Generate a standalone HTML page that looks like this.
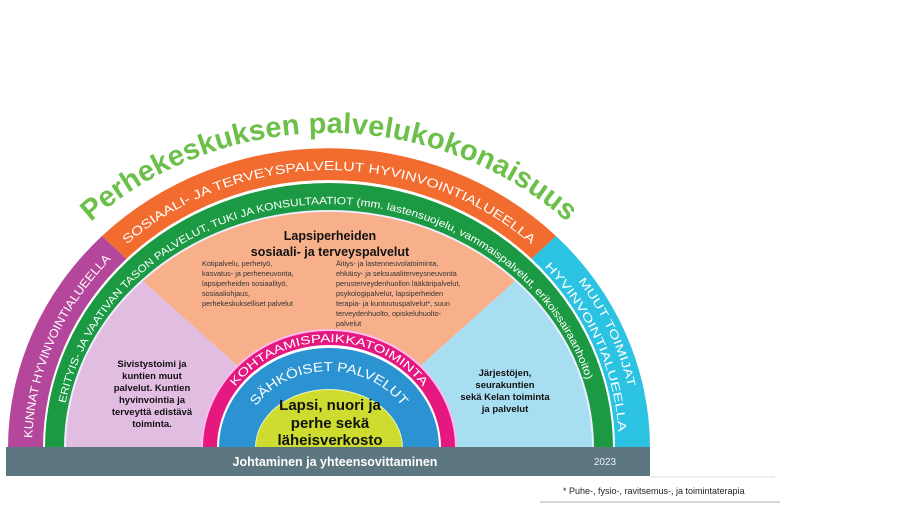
<!DOCTYPE html>
<html><head><meta charset="utf-8"><style>
html,body{margin:0;padding:0;background:#fff;overflow:hidden;width:905px;height:505px;}
svg{display:block;font-family:"Liberation Sans",Arial,sans-serif;}
</style></head><body>
<svg width="905" height="505" viewBox="0 0 905 505" xmlns="http://www.w3.org/2000/svg">
<defs>
<clipPath id="top"><rect x="0" y="0" width="905" height="448"/></clipPath>
<path id="pTitle" d="M -16 455 A 345 322 0 0 1 674 455"/>
<path id="pOr" d="M 32 448 A 297 278 0 0 1 626 448"/>
<path id="pGr" d="M 61 448 A 268 244 0 0 1 597 448"/>
<path id="pCy1" d="M 23 448 A 306 287 0 0 1 635 448"/>
<path id="pCy2" d="M 39 448 A 290 271 0 0 1 619 448"/>
<path id="pMag" d="M 214 448 A 115 106 0 0 1 444 448"/>
<path id="pBl" d="M 242 448 A 87 77 0 0 1 416 448"/>
</defs>
<g clip-path="url(#top)">
<path d="M329 448 L8 448 A321 300 0 0 1 102 236 Z" fill="#b4479c"/>
<path d="M329 448 L102 236 A321 300 0 0 1 556 236 Z" fill="#f26b2f"/>
<path d="M329 448 L556 236 A321 300 0 0 1 650 448 Z" fill="#2cc3e3"/>
<ellipse cx="329" cy="448" rx="286" ry="268" fill="#fff"/>
<ellipse cx="329" cy="448" rx="284" ry="265" fill="#1b9a43"/>
<ellipse cx="329" cy="448" rx="265" ry="238" fill="#eef"/>
<path d="M329 448 L66 448 A263 236 0 0 1 143 281 Z" fill="#e2bde2"/>
<path d="M329 448 L143 281 A263 236 0 0 1 515 281 Z" fill="#f8b08b"/>
<path d="M329 448 L515 281 A263 236 0 0 1 592 448 Z" fill="#a8def1"/>
<ellipse cx="329" cy="448" rx="128" ry="119" fill="#fbe"/>
<ellipse cx="329" cy="448" rx="126" ry="117" fill="#e5187f"/>
<ellipse cx="329" cy="448" rx="112" ry="103" fill="#fff"/>
<ellipse cx="329" cy="448" rx="110" ry="100" fill="#2b93d2"/>
<ellipse cx="329" cy="448" rx="74" ry="59" fill="#eef5c0"/>
<ellipse cx="329" cy="448" rx="73" ry="58" fill="#cddc2f"/>
</g>
<rect x="6" y="447" width="644" height="29" fill="#5d7780"/>
<text x="335" y="466" fill="#fff" font-size="12.5" font-weight="bold" text-anchor="middle">Johtaminen ja yhteensovittaminen</text>
<text x="605" y="465" fill="#eef" font-size="10" text-anchor="middle">2023</text>
<line x1="650" y1="477" x2="775" y2="477" stroke="#ddd" stroke-width="1"/>
<line x1="540" y1="502" x2="780" y2="502" stroke="#ccc" stroke-width="1.5"/>
<text x="563" y="494" fill="#222" font-size="9">* Puhe-, fysio-, ravitsemus-, ja toimintaterapia</text>
<text font-size="29" font-weight="bold" fill="#6cc04a"><textPath href="#pTitle" startOffset="50%" text-anchor="middle" textLength="520" lengthAdjust="spacing">Perhekeskuksen palvelukokonaisuus</textPath></text>
<text font-size="12.5" fill="#fff"><textPath href="#pOr" startOffset="50%" text-anchor="middle" textLength="440" lengthAdjust="spacingAndGlyphs">SOSIAALI- JA TERVEYSPALVELUT HYVINVOINTIALUEELLA</textPath></text>
<text font-size="12" fill="#fff"><textPath href="#pOr" startOffset="10" textLength="200" lengthAdjust="spacingAndGlyphs">KUNNAT HYVINVOINTIALUEELLA</textPath></text>
<text font-size="10.5" fill="#fff"><textPath href="#pGr" startOffset="45" textLength="690" lengthAdjust="spacingAndGlyphs">ERITYIS- JA VAATIVAN TASON PALVELUT, TUKI JA KONSULTAATIOT (mm. lastensuojelu, vammaispalvelut, erikoissairaanhoito)</textPath></text>
<text font-size="11.5" fill="#fff"><textPath href="#pCy1" startOffset="752" textLength="118" lengthAdjust="spacingAndGlyphs">MUUT TOIMIJAT</textPath></text>
<text font-size="11.5" fill="#fff"><textPath href="#pCy2" startOffset="680" textLength="185" lengthAdjust="spacingAndGlyphs">HYVINVOINTIALUEELLA</textPath></text>
<text font-size="11.5" fill="#fff"><textPath href="#pMag" startOffset="50%" text-anchor="middle" textLength="215" lengthAdjust="spacingAndGlyphs">KOHTAAMISPAIKKATOIMINTA</textPath></text>
<text font-size="13" fill="#fff"><textPath href="#pBl" startOffset="50%" text-anchor="middle" textLength="168" lengthAdjust="spacingAndGlyphs">SÄHKÖISET PALVELUT</textPath></text>
<text x="330" y="240" font-size="12.5" font-weight="bold" fill="#111" text-anchor="middle">Lapsiperheiden</text>
<text x="330" y="256" font-size="12.5" font-weight="bold" fill="#111" text-anchor="middle">sosiaali- ja terveyspalvelut</text>
<g font-size="7.3" fill="#333">
<text x="202" y="266">Kotipalvelu, perhetyö,</text>
<text x="202" y="276">kasvatus- ja perheneuvonta,</text>
<text x="202" y="286">lapsiperheiden sosiaalityö,</text>
<text x="202" y="296">sosiaaliohjaus,</text>
<text x="202" y="306">perhekeskukselliset palvelut</text>
<text x="336" y="266">Äitiys- ja lastenneuvolatoiminta,</text>
<text x="336" y="276">ehkäisy- ja seksuaaliterveysneuvonta</text>
<text x="336" y="286">perusterveydenhuollon lääkäripalvelut,</text>
<text x="336" y="296">psykologipalvelut, lapsiperheiden</text>
<text x="336" y="306">terapia- ja kuntoutuspalvelut*, suun</text>
<text x="336" y="316">terveydenhuolto, opiskeluhuolto-</text>
<text x="336" y="326">palvelut</text>
</g>
<g font-size="9.5" font-weight="bold" fill="#111" text-anchor="middle">
<text x="152" y="367">Sivistystoimi ja</text>
<text x="152" y="379">kuntien muut</text>
<text x="152" y="391">palvelut. Kuntien</text>
<text x="152" y="403">hyvinvointia ja</text>
<text x="152" y="415">terveyttä edistävä</text>
<text x="152" y="427">toiminta.</text>
<text x="505" y="376">Järjestöjen,</text>
<text x="505" y="388">seurakuntien</text>
<text x="505" y="400">sekä Kelan toiminta</text>
<text x="505" y="412">ja palvelut</text>
</g>
<g font-size="15" font-weight="bold" fill="#111" text-anchor="middle">
<text x="330" y="410">Lapsi, nuori ja</text>
<text x="330" y="428">perhe sekä</text>
<text x="330" y="445">läheisverkosto</text>
</g>
</svg>
</body></html>
